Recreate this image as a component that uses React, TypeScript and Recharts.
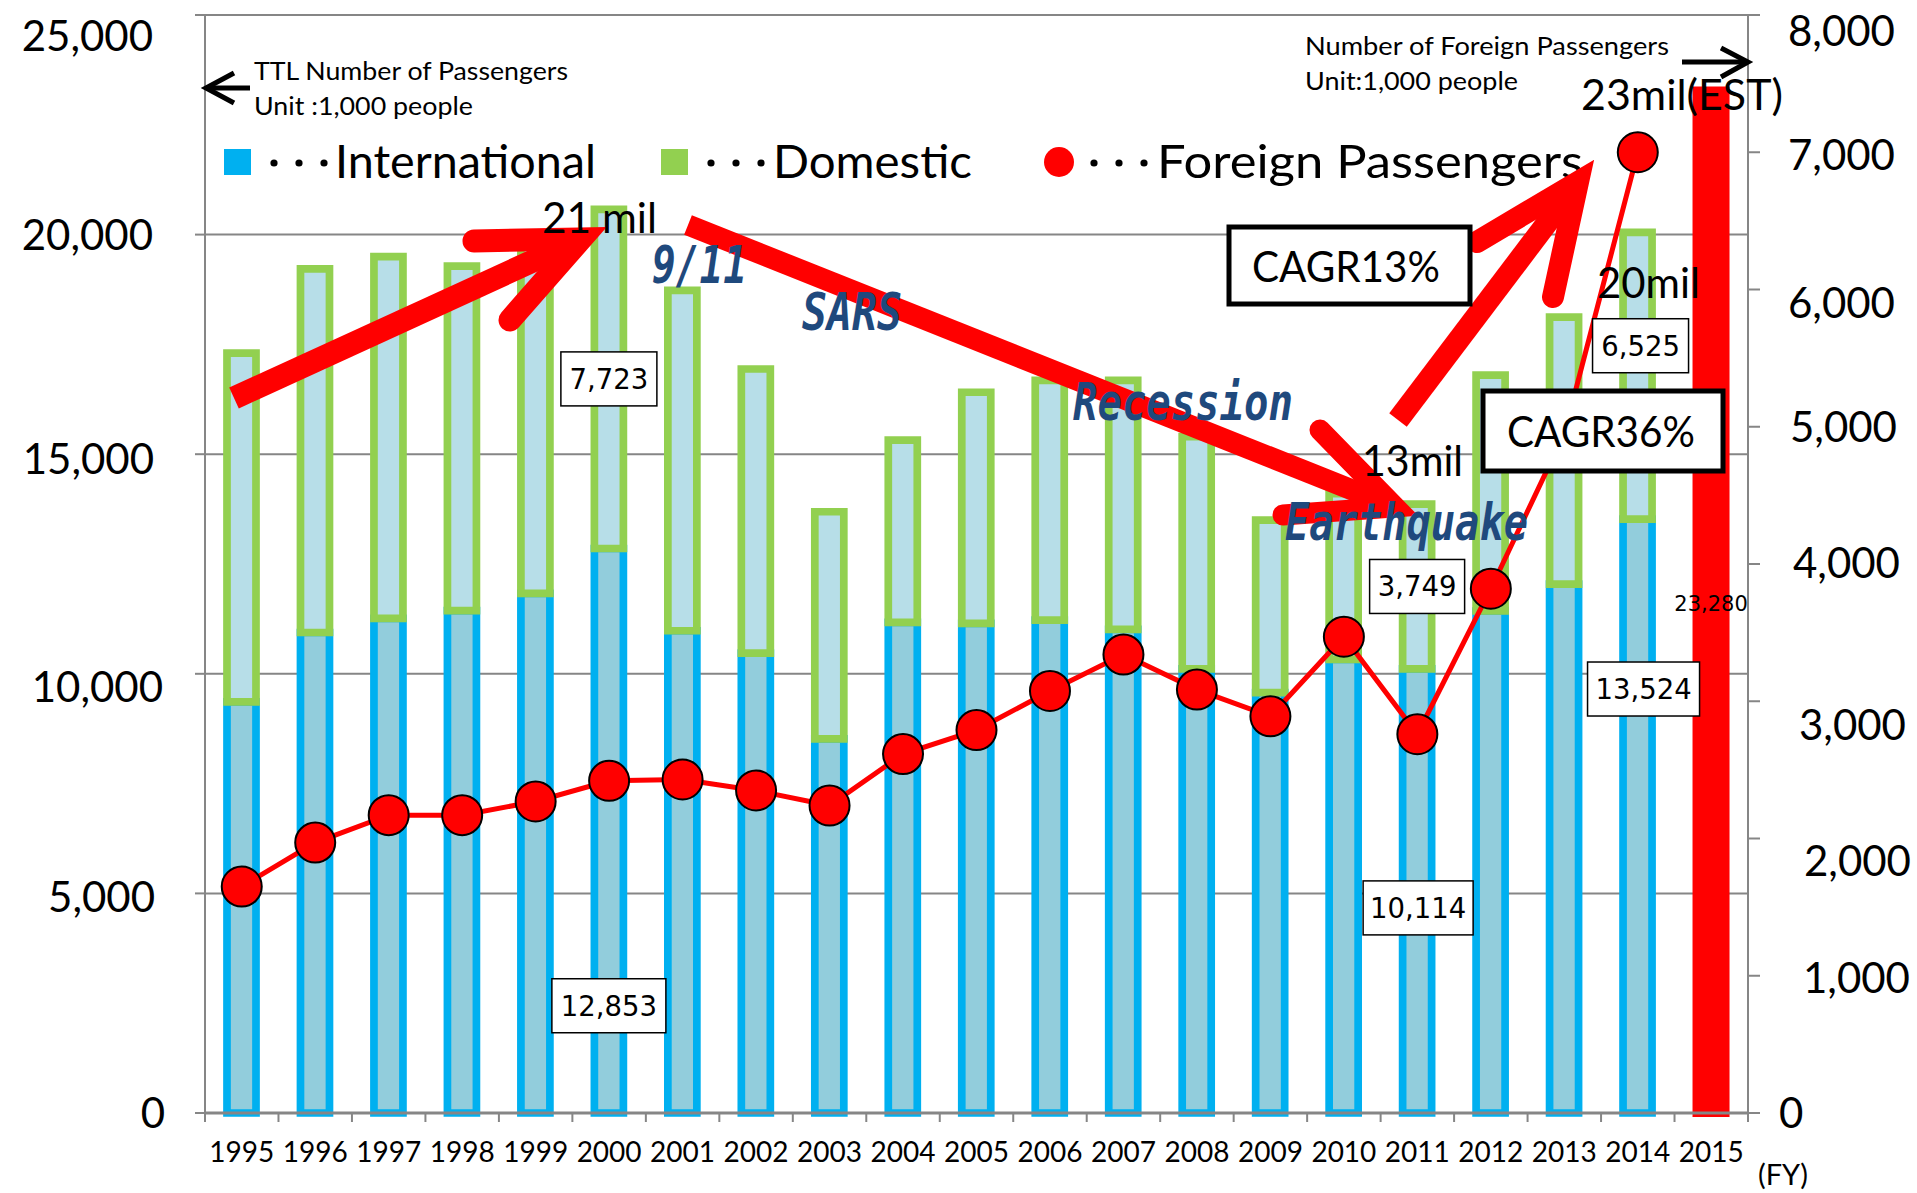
import React from 'react';
import {
  ComposedChart,
  Bar,
  Line,
  XAxis,
  YAxis,
  CartesianGrid,
  LabelList,
} from 'recharts';

const YEARS = [
  '1995', '1996', '1997', '1998', '1999', '2000', '2001', '2002', '2003', '2004',
  '2005', '2006', '2007', '2008', '2009', '2010', '2011', '2012', '2013', '2014', '2015',
];
// unit: 1,000 people
const INTERNATIONAL = [
  9360, 10940, 11260, 11440, 11830, 12853, 10980, 10470, 8520, 11170,
  11150, 11220, 11010, 10110, 9570, 10330, 10114, 11430, 12040, 13524, null,
];
const DOMESTIC = [
  7940, 8280, 8240, 7840, 8180, 7723, 7750, 6470, 5170, 4150,
  5260, 5460, 5670, 5290, 3930, 3770, 3749, 5370, 6080, 6525, null,
];
const ESTIMATE = [
  null, null, null, null, null, null, null, null, null, null,
  null, null, null, null, null, null, null, null, null, null, 23280,
];
const FOREIGN = [
  1650, 1970, 2170, 2170, 2270, 2420, 2430, 2350, 2240, 2615,
  2790, 3075, 3340, 3085, 2890, 3470, 2760, 3820, 4950, 7000, null,
];
const LEFT_TICKS = [0, 5000, 10000, 15000, 20000, 25000];
const RIGHT_TICKS = [0, 1000, 2000, 3000, 4000, 5000, 6000, 7000, 8000];

const data = YEARS.map((year, i) => ({
  year,
  international: INTERNATIONAL[i],
  domestic: DOMESTIC[i],
  estimate: ESTIMATE[i],
  foreign: FOREIGN[i],
}));

const W = 1917;
const H = 1193;
const LEFT_W = 205;
const RIGHT_W = 169;
const HALF_BAND = (W - LEFT_W - RIGHT_W) / YEARS.length / 2;
const GRAY = '#868686';
const FONT = 'Lato, sans-serif';
const BLUE_TEXT = '#1F497D';
const RED = '#FF0000';

// which bars carry a boxed value label, and how far it was moved
const DOM_LABELS: Record<number, { dx: number; dy: number; w: number }> = {
  5: { dx: 0, dy: 0, w: 96 },
  16: { dx: 0, dy: 0, w: 95 },
  19: { dx: 3, dy: -30, w: 96 },
};
const INTL_LABELS: Record<number, { dx: number; dy: number; w: number }> = {
  5: { dx: 0, dy: 175, w: 114 },
  16: { dx: 1, dy: 17, w: 110 },
  19: { dx: 6, dy: -127, w: 112 },
};

// Excel placed the axis numbers a little unevenly
const LEFT_TICK_SHIFT: Record<number, [number, number]> = {
  25000: [-4, 21], 20000: [-4, 0], 15000: [-3, 5], 10000: [6, 13], 5000: [-2, 4], 0: [8, 0],
};
const RIGHT_TICK_SHIFT: Record<number, [number, number]> = {
  8000: [0, 16], 7000: [0, 3], 6000: [0, 13], 5000: [2, 0], 4000: [5, -1],
  3000: [11, 24], 2000: [16, 22], 1000: [15, 2], 0: [-9, 0],
};

const fmt = (v: number) => v.toLocaleString('en-US');

function boxLabel(map: Record<number, { dx: number; dy: number; w: number }>, values: (number | null)[]) {
  return (props: any) => {
    const vb = props.viewBox && props.viewBox.width !== undefined ? props.viewBox : props;
    const cfg = map[props.index];
    const v = values[props.index];
    if (!cfg || v == null) return null;
    const cx = vb.x + vb.width / 2 + cfg.dx;
    const cy = vb.y + vb.height / 2 + cfg.dy;
    return (
      <g>
        <rect x={cx - cfg.w / 2} y={cy - 27} width={cfg.w} height={54} fill="#fff" stroke="#000" strokeWidth={1.5} />
        <text x={cx} y={cy + 10} textAnchor="middle" fontSize={27.5} fontFamily="'DejaVu Sans', sans-serif" fill="#000">
          {fmt(v)}
        </text>
      </g>
    );
  };
}

const estimateLabel = (props: any) => {
  const vb = props.viewBox && props.viewBox.width !== undefined ? props.viewBox : props;
  const raw = props.value;
  const v = Array.isArray(raw) ? raw[1] - raw[0] : raw;
  if (!v || !vb.height) return null;
  return (
    <text x={vb.x + vb.width / 2} y={vb.y + vb.height / 2 + 9} textAnchor="middle" fontSize={21} fontFamily="'DejaVu Sans', sans-serif" fill="#000">
      {fmt(Number(v))}
    </text>
  );
};

const XTick = (props: any) => {
  const { x, y, payload, index } = props;
  return (
    <g>
      <text x={x} y={y + 49} textAnchor="middle" fontSize={28} fontFamily={FONT} fill="#000">
        {payload.value}
      </text>
      <line x1={x - HALF_BAND} x2={x - HALF_BAND} y1={y} y2={y + 9} stroke={GRAY} strokeWidth={2} />
      {index === YEARS.length - 1 && (
        <line x1={x + HALF_BAND} x2={x + HALF_BAND} y1={y} y2={y + 9} stroke={GRAY} strokeWidth={2} />
      )}
    </g>
  );
};

const LeftTick = (props: any) => {
  const { x, y, payload } = props;
  const [dx, dy] = LEFT_TICK_SHIFT[payload.value] || [0, 0];
  return (
    <text x={x + dx} y={y + dy + 15} textAnchor="end" fontSize={42} fontFamily={FONT} fill="#000">
      {fmt(payload.value)}
    </text>
  );
};

const RightTick = (props: any) => {
  const { x, y, payload } = props;
  const [dx, dy] = RIGHT_TICK_SHIFT[payload.value] || [0, 0];
  return (
    <text x={x + dx} y={y + dy + 15} textAnchor="start" fontSize={42} fontFamily={FONT} fill="#000">
      {fmt(payload.value)}
    </text>
  );
};

function Arrow({ from, tip, barbs, width }: { from: number[]; tip: number[]; barbs: number[][]; width: number }) {
  return (
    <g>
      <line x1={from[0]} y1={from[1]} x2={tip[0]} y2={tip[1]} stroke={RED} strokeWidth={width} />
      <polyline
        points={`${barbs[0].join(',')} ${tip.join(',')} ${barbs[1].join(',')}`}
        fill="none"
        stroke={RED}
        strokeWidth={width}
        strokeLinecap="round"
        strokeLinejoin="miter"
        strokeMiterlimit={10}
      />
    </g>
  );
}

function Overlay() {
  const blue = { fill: BLUE_TEXT, fontFamily: "'DejaVu Sans Mono', monospace", fontStyle: 'italic', fontWeight: 700, fontSize: 52 } as const;
  const big = { fill: '#000', fontFamily: FONT, fontSize: 42 } as const;
  const small = { fill: '#000', fontFamily: FONT, fontSize: 25 } as const;
  const legend = { fill: '#000', fontFamily: FONT, fontSize: 46 } as const;
  const dots = (x0: number) => [0, 1, 2].map((k) => <circle key={k} cx={x0 + k * 25} cy={163} r={3.6} fill="#000" />);
  return (
    <svg width={W} height={H} style={{ position: 'absolute', left: 0, top: 0, pointerEvents: 'none' }}>
      {/* unit notes */}
      <text x={254} y={80} {...small} textLength={314} lengthAdjust="spacingAndGlyphs">TTL Number of Passengers</text>
      <text x={254} y={115} {...small} textLength={219} lengthAdjust="spacingAndGlyphs">Unit :1,000 people</text>
      <line x1={206} y1={88} x2={250} y2={88} stroke="#000" strokeWidth={5} />
      <polyline points="234,73 206,88 234,103" fill="none" stroke="#000" strokeWidth={5} />
      <text x={1305} y={55} {...small} textLength={364} lengthAdjust="spacingAndGlyphs">Number of Foreign Passengers</text>
      <text x={1305} y={90} {...small} textLength={213} lengthAdjust="spacingAndGlyphs">Unit:1,000 people</text>
      <line x1={1682} y1={62} x2={1745} y2={62} stroke="#000" strokeWidth={5} />
      <polyline points="1721,48 1748,62 1721,77" fill="none" stroke="#000" strokeWidth={5} />

      {/* legend */}
      <rect x={224} y={149} width={27} height={26} fill="#00B0F0" />
      {dots(274)}
      <text x={335} y={178} {...legend} textLength={261} lengthAdjust="spacingAndGlyphs">International</text>
      <rect x={661} y={149} width={27} height={26} fill="#92D050" />
      {dots(711)}
      <text x={773} y={178} {...legend} textLength={199} lengthAdjust="spacingAndGlyphs">Domestic</text>
      <circle cx={1059} cy={162} r={15} fill={RED} />
      {dots(1094)}
      <text x={1157} y={178} {...legend} textLength={426} lengthAdjust="spacingAndGlyphs">Foreign Passengers</text>

      {/* trend arrows */}
      <Arrow from={[234, 398]} tip={[581, 239]} barbs={[[474, 241], [510, 320]]} width={23} />
      <Arrow from={[688, 225]} tip={[1395, 507]} barbs={[[1320, 430], [1283, 515]]} width={21} />
      <Arrow from={[1398, 420]} tip={[1578, 182]} barbs={[[1477, 242], [1553, 297]]} width={22} />

      {/* events */}
      <text x={652} y={283} {...blue} textLength={95} lengthAdjust="spacingAndGlyphs">9/11</text>
      <text x={802} y={330} {...blue} textLength={100} lengthAdjust="spacingAndGlyphs">SARS</text>
      <text x={1073} y={420} {...blue} textLength={220} lengthAdjust="spacingAndGlyphs">Recession</text>
      <text x={1285} y={540} {...blue} textLength={243} lengthAdjust="spacingAndGlyphs">Earthquake</text>

      {/* totals */}
      <text x={542} y={233} {...big} textLength={115} lengthAdjust="spacingAndGlyphs">21 mil</text>
      <text x={1362} y={476} {...big} textLength={101} lengthAdjust="spacingAndGlyphs">13mil</text>
      <text x={1597} y={298} {...big} textLength={103} lengthAdjust="spacingAndGlyphs">20mil</text>
      <text x={1581} y={110} {...big} textLength={202} lengthAdjust="spacingAndGlyphs">23mil(EST)</text>

      {/* growth boxes */}
      <rect x={1229} y={227} width={241} height={77} fill="#fff" stroke="#000" strokeWidth={5} />
      <text x={1252} y={282} {...big} textLength={188} lengthAdjust="spacingAndGlyphs">CAGR13%</text>
      <rect x={1483} y={391} width={240} height={80} fill="#fff" stroke="#000" strokeWidth={5} />
      <text x={1507} y={447} {...big} textLength={188} lengthAdjust="spacingAndGlyphs">CAGR36%</text>

      <text x={1758} y={1185} fill="#000" fontFamily={FONT} fontSize={28} textLength={50} lengthAdjust="spacingAndGlyphs">(FY)</text>
    </svg>
  );
}

export default function App() {
  return (
    <div style={{ position: 'absolute', left: 0, top: 0, width: W, height: H, background: '#fff' }}>
      <ComposedChart width={W} height={H} data={data} margin={{ top: 15, right: 0, bottom: 0, left: 0 }} barSize={29}>
        <CartesianGrid yAxisId="left" vertical={false} stroke={GRAY} strokeWidth={2} />
        <XAxis
          dataKey="year"
          height={80}
          tick={<XTick />}
          tickLine={false}
          tickSize={0}
          tickMargin={0}
          interval={0}
          axisLine={{ stroke: GRAY, strokeWidth: 3 }}
        />
        <YAxis
          yAxisId="left"
          width={LEFT_W}
          domain={[0, 25000]}
          ticks={LEFT_TICKS}
          tick={<LeftTick />}
          tickSize={10}
          tickMargin={38}
          axisLine={{ stroke: GRAY, strokeWidth: 2 }}
          tickLine={{ stroke: GRAY, strokeWidth: 2 }}
        />
        <YAxis
          yAxisId="right"
          orientation="right"
          width={RIGHT_W}
          domain={[0, 8000]}
          ticks={RIGHT_TICKS}
          tick={<RightTick />}
          tickSize={12}
          tickMargin={28}
          axisLine={{ stroke: GRAY, strokeWidth: 2 }}
          tickLine={{ stroke: GRAY, strokeWidth: 2 }}
        />
        <Bar yAxisId="left" dataKey="international" stackId="a" fill="#92CDDC" stroke="#00B0F0" strokeWidth={7.7} isAnimationActive={false}>
          <LabelList dataKey="international" content={boxLabel(INTL_LABELS, INTERNATIONAL)} />
        </Bar>
        <Bar yAxisId="left" dataKey="domestic" stackId="a" fill="#B7DEE8" stroke="#92D050" strokeWidth={7.7} isAnimationActive={false}>
          <LabelList dataKey="domestic" content={boxLabel(DOM_LABELS, DOMESTIC)} />
        </Bar>
        <Bar yAxisId="left" dataKey="estimate" stackId="a" fill={RED} stroke={RED} strokeWidth={8} isAnimationActive={false}>
          <LabelList dataKey="estimate" content={estimateLabel} />
        </Bar>
        <Line
          yAxisId="right"
          dataKey="foreign"
          stroke={RED}
          strokeWidth={5}
          dot={{ r: 20, fill: RED, stroke: '#000', strokeWidth: 2 }}
          activeDot={false}
          isAnimationActive={false}
        />
      </ComposedChart>
      <Overlay />
    </div>
  );
}
